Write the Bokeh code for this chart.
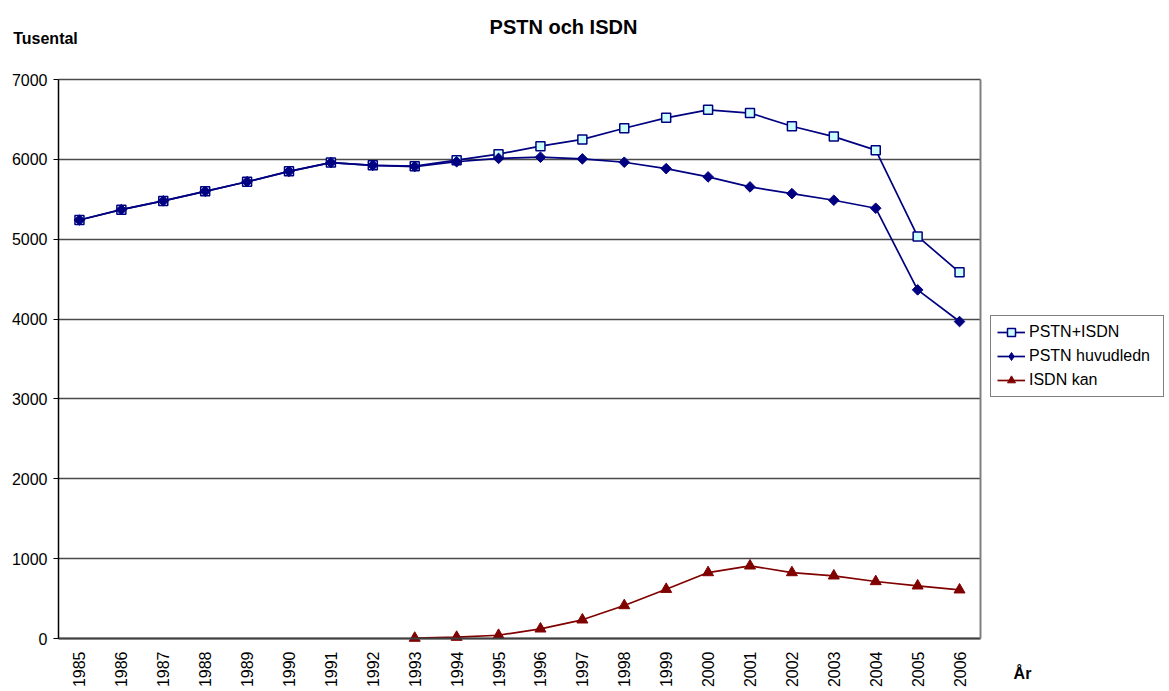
from bokeh.plotting import figure
from bokeh.models import (Legend, LegendItem, Label, LinearAxis, FixedTicker, Grid,
                          Range1d)
from bokeh.embed import file_html
from bokeh.resources import INLINE
from math import pi

years = [1985, 1986, 1987, 1988, 1989, 1990, 1991, 1992, 1993, 1994, 1995, 1996, 1997,
         1998, 1999, 2000, 2001, 2002, 2003, 2004, 2005, 2006]
pstn_isdn = [5240, 5370, 5480, 5600, 5720, 5850, 5960, 5925, 5915, 5990, 6065, 6165, 6250,
             6390, 6520, 6620, 6580, 6415, 6285, 6115, 5035, 4585]
pstn = [5240, 5370, 5480, 5600, 5720, 5850, 5960, 5925, 5910, 5970, 6012, 6027, 6006,
        5964, 5884, 5780, 5655, 5571, 5488, 5388, 4366, 3969]
isdn_years = years[8:]
isdn = [5, 17, 41, 121, 234, 413, 617, 826, 910, 826, 785, 714, 660, 610]
y_ticks = [0, 1000, 2000, 3000, 4000, 5000, 6000, 7000]

FONT = "Liberation Sans"
NAVY = "#000080"
DRED = "#800000"

# ---- layout (pixels) ----
W, H = 1165, 688
PL, PR, PT, PB = 58, 980, 79, 638          # plot area box
x0, x1 = years[0] - 0.5, years[-1] + 0.5    # category band edges
y0, y1 = y_ticks[0], y_ticks[-1]
sx = (PR - PL) / (x1 - x0)                  # px per year
sy = (PB - PT) / (y1 - y0)                  # px per unit
xr = Range1d(x0 - PL / sx, x0 + (W - PL) / sx)
yr = Range1d(y1 - (H - PT) / sy, y1 + PT / sy)

p = figure(x_range=xr, y_range=yr, width=W, height=H, output_backend="svg",
           toolbar_location=None, x_axis_location=None, y_axis_location=None,
           min_border=0)
p.background_fill_color = "white"
p.border_fill_color = "white"
p.outline_line_color = None
p.grid.visible = False

# horizontal grid lines limited to the plot box
g = Grid(dimension=1, ticker=FixedTicker(ticks=y_ticks), grid_line_color="#4a4a4a",
         grid_line_width=1.5)
try:
    g.cross_bounds = (x0, x1)
    p.add_layout(g)
except Exception:
    p.segment(x0=[x0] * len(y_ticks), x1=[x1] * len(y_ticks), y0=y_ticks, y1=y_ticks,
              line_color="#4a4a4a", line_width=1.5)

# y axis
ya = LinearAxis(ticker=FixedTicker(ticks=y_ticks), fixed_location=x0, bounds=(y0, y1))
ya.axis_line_color = "black"
ya.axis_line_width = 1.5
ya.major_tick_line_color = "black"
ya.major_tick_out = 5
ya.major_tick_in = 0
ya.minor_tick_line_color = None
ya.major_label_text_font = FONT
ya.major_label_text_font_size = "16px"
ya.major_label_text_color = "black"
ya.major_label_standoff = 6
p.add_layout(ya, "left")

# right border of plot box
ra = LinearAxis(ticker=FixedTicker(ticks=[]), fixed_location=x1, bounds=(y0, y1))
ra.axis_line_color = "#808080"
ra.axis_line_width = 2
ra.major_tick_line_color = None
ra.minor_tick_line_color = None
p.add_layout(ra, "right")

# x axis
xa = LinearAxis(ticker=FixedTicker(ticks=years), fixed_location=y0, bounds=(x0, x1))
xa.axis_line_color = "#404040"
xa.axis_line_width = 2
xa.major_tick_line_color = None
xa.minor_tick_line_color = None
xa.major_label_orientation = pi / 2
xa.major_label_text_font = FONT
xa.major_label_text_font_size = "16px"
xa.major_label_text_color = "black"
xa.major_label_standoff = 7
p.add_layout(xa, "below")

# series
r1 = p.line(years, pstn_isdn, line_color=NAVY, line_width=1.7)
s1 = p.scatter(years, pstn_isdn, marker="square", size=9, fill_color="#CCFFFF",
               line_color=NAVY, line_width=1.5)
r2 = p.line(years, pstn, line_color=NAVY, line_width=1.7)
s2 = p.scatter(years, pstn, marker="square", angle=pi / 4, size=7.5, fill_color=NAVY,
               line_color=NAVY)
r3 = p.line(isdn_years, isdn, line_color=DRED, line_width=1.7)
s3 = p.scatter(isdn_years, isdn, marker="triangle", size=11, fill_color=DRED, line_color=DRED)
# legend-only diamond symbol (legend glyphs are drawn unrotated); its point is not drawn
k2 = p.scatter(x=[years[0]], y=[float("nan")], marker="diamond", size=12,
               fill_color=NAVY, line_color=NAVY)

legend = Legend(items=[LegendItem(label="PSTN+ISDN", renderers=[r1, s1]),
                       LegendItem(label="PSTN huvudledn", renderers=[r2, k2]),
                       LegendItem(label="ISDN kan", renderers=[r3, s3])],
                location=(990, H - 397), border_line_color="black", border_line_width=1,
                label_text_font=FONT, label_text_font_size="16px", label_text_color="black",
                glyph_width=28, glyph_height=20, label_height=20, label_width=128,
                label_standoff=4, spacing=4, padding=6, margin=0,
                background_fill_color="white")
p.add_layout(legend)

# texts
def px_x(px):
    return x0 + (px - PL) / sx

def px_y(py):
    return y1 + (PT - py) / sy

p.add_layout(Label(x=px_x(563), y=px_y(26.7), text="PSTN och ISDN", text_align="center",
                   text_baseline="alphabetic", text_font=FONT, text_font_size="20px",
                   text_font_style="bold", text_color="black"))
p.add_layout(Label(x=px_x(12.7), y=px_y(38.3), text="Tusental", text_align="left",
                   text_baseline="alphabetic", text_font=FONT, text_font_size="16px",
                   text_font_style="bold", text_color="black"))
p.add_layout(Label(x=px_x(1022), y=px_y(673), text="År", text_align="center",
                   text_baseline="alphabetic", text_font=FONT, text_font_size="16px",
                   text_font_style="bold", text_color="black"))

open("out.html", "w").write(file_html(p, INLINE))
